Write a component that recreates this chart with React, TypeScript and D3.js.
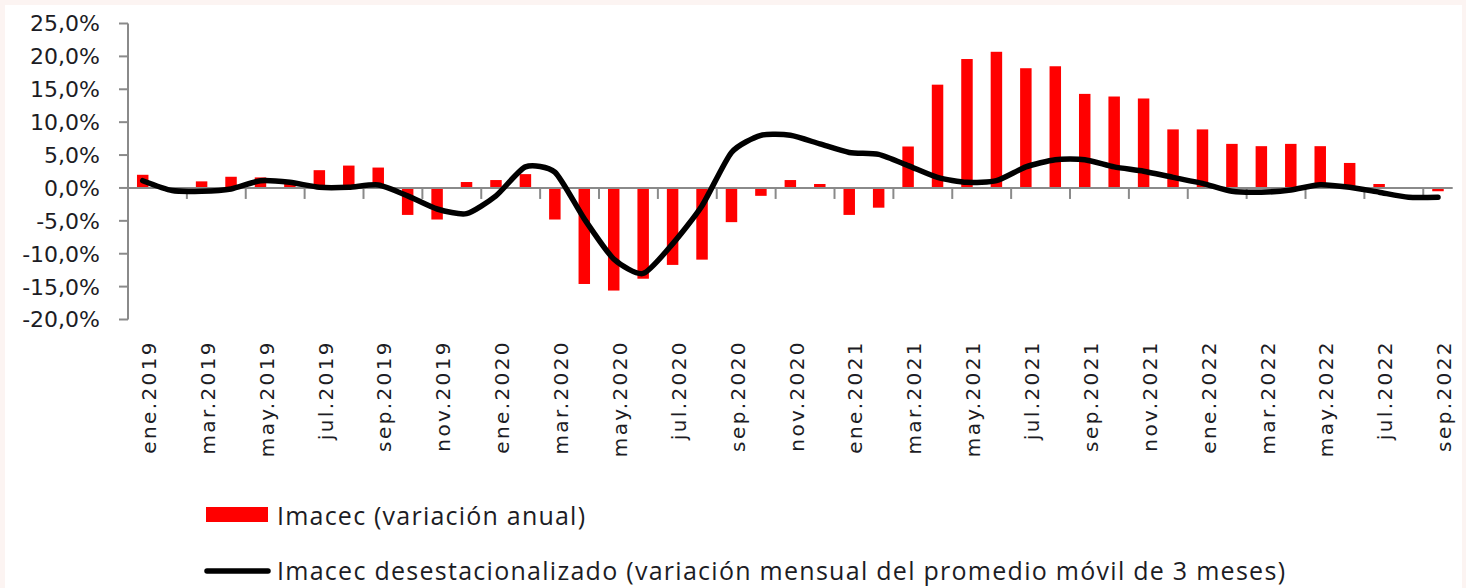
import React from "react";
import * as d3 from "d3";

// months shown on the x axis (every other one gets a label)
const categories = [
  "ene.2019", "feb.2019", "mar.2019", "abr.2019", "may.2019", "jun.2019",
  "jul.2019", "ago.2019", "sep.2019", "oct.2019", "nov.2019", "dic.2019",
  "ene.2020", "feb.2020", "mar.2020", "abr.2020", "may.2020", "jun.2020",
  "jul.2020", "ago.2020", "sep.2020", "oct.2020", "nov.2020", "dic.2020",
  "ene.2021", "feb.2021", "mar.2021", "abr.2021", "may.2021", "jun.2021",
  "jul.2021", "ago.2021", "sep.2021", "oct.2021", "nov.2021", "dic.2021",
  "ene.2022", "feb.2022", "mar.2022", "abr.2022", "may.2022", "jun.2022",
  "jul.2022", "ago.2022", "sep.2022",
];

// Imacec (variación anual) - red bars
const imacecAnual = [
  2.0, 0.1, 1.0, 1.7, 1.6, 1.0, 2.7, 3.4, 3.1, -4.1, -4.8, 0.9,
  1.2, 2.1, -4.8, -14.6, -15.6, -13.8, -11.7, -10.9, -5.2, -1.2, 1.2, 0.6,
  -4.1, -3.0, 6.3, 15.7, 19.6, 20.7, 18.2, 18.5, 14.3, 13.9, 13.6, 8.9,
  8.9, 6.7, 6.35, 6.7, 6.35, 3.8, 0.6, 0.0, -0.5,
];

// Imacec desestacionalizado (var. mensual prom. móvil 3 meses) - black line
const imacecDesest = [
  1.1, -0.4, -0.5, -0.15, 1.1, 0.85, 0.1, 0.1, 0.45, -1.2, -3.2, -3.9,
  -1.2, 3.2, 2.4, -4.7, -10.8, -13.0, -8.5, -2.7, 5.4, 8.0, 8.0, 6.7,
  5.4, 5.1, 3.4, 1.6, 0.85, 1.1, 3.2, 4.3, 4.3, 3.2, 2.55, 1.6,
  0.7, -0.5, -0.65, -0.3, 0.5, 0.1, -0.65, -1.4, -1.4,
];

const yTicks = [25, 20, 15, 10, 5, 0, -5, -10, -15, -20];

const legendBar = "Imacec (variación anual)";
const legendLine =
  "Imacec desestacionalizado (variación mensual del promedio móvil de 3 meses)";

const W = 1466;
const H = 588;
const left = 128;
const right = 1452.7;
const top = 23.5;
const bottom = 319.5;
const axisGray = "#8a8a8a";
const textCol = "#1c1c24";

export default function App() {
  const x = d3.scaleBand<string>().domain(categories).range([left, right]).padding(0);
  const y = d3.scaleLinear().domain([-20, 25]).range([bottom, top]);
  const step = x.step();
  const barW = step * 0.39;
  const cx = (c: string) => (x(c) ?? 0) + step / 2;

  const line = d3
    .line<number>()
    .x((_, i) => cx(categories[i]))
    .y((d) => y(d))
    .curve(d3.curveCardinal.tension(0.35));

  const fmt = (v: number) => v.toFixed(1).replace(".", ",") + "%";

  return (
    <svg
      width={W}
      height={H}
      style={{ position: "absolute", left: 0, top: 0 }}
    >
      <rect x={0} y={0} width={W} height={H} fill="#fcf4f2" />
      <rect x={5} y={5} width={1457} height={H - 5} fill="#ffffff" />

      {/* bars */}
      {imacecAnual.map((v, i) => (
        <rect
          key={categories[i]}
          x={cx(categories[i]) - barW / 2}
          y={y(Math.max(0, v))}
          width={barW}
          height={Math.abs(y(v) - y(0))}
          fill="#ff0000"
        />
      ))}

      {/* y axis */}
      <line x1={left} x2={left} y1={top} y2={bottom} stroke={axisGray} strokeWidth={2} />
      {yTicks.map((t) => (
        <g key={t}>
          <line x1={left - 9} x2={left} y1={y(t)} y2={y(t)} stroke={axisGray} strokeWidth={2} />
          <text
            x={100}
            y={y(t)}
            dy="0.36em"
            textAnchor="end"
            fontFamily="DejaVu Sans"
            fontSize={22}
            fill={textCol}
          >
            {fmt(t)}
          </text>
        </g>
      ))}

      {/* x axis at zero */}
      <line x1={left} x2={right} y1={y(0)} y2={y(0)} stroke={axisGray} strokeWidth={2} />
      {categories.map((c, i) =>
        i % 2 === 0 && i > 0 ? (
          <line
            key={"t" + c}
            x1={x(c)}
            x2={x(c)}
            y1={y(0)}
            y2={y(0) + 11}
            stroke={axisGray}
            strokeWidth={2}
          />
        ) : null
      )}

      {/* smoothed line */}
      <path
        d={line(imacecDesest) ?? ""}
        fill="none"
        stroke="#000"
        strokeWidth={5.5}
        strokeLinejoin="round"
        strokeLinecap="round"
      />

      {/* x labels */}
      {categories.map((c, i) =>
        i % 2 === 0 ? (
          <text
            key={"l" + c}
            transform={`translate(${cx(c) + 6},340) rotate(-90)`}
            dy="0.36em"
            textAnchor="end"
            fontFamily="DejaVu Sans"
            fontSize={20}
            fill={textCol}
            style={{ letterSpacing: "2.4px" }}
          >
            {c}
          </text>
        ) : null
      )}

      {/* legend */}
      <rect x={206} y={507} width={62} height={15} fill="#ff0000" />
      <text
        x={277}
        y={525}
        fontFamily="Open Sans"
        fontSize={25}
        fill={textCol}
        textLength={308}
        lengthAdjust="spacing"
      >
        {legendBar}
      </text>
      <line x1={207} x2={268} y1={571} y2={571} stroke="#000" strokeWidth={5.5} strokeLinecap="round" />
      <text
        x={277}
        y={580}
        fontFamily="Open Sans"
        fontSize={25}
        fill={textCol}
        textLength={1008}
        lengthAdjust="spacing"
      >
        {legendLine}
      </text>
    </svg>
  );
}
